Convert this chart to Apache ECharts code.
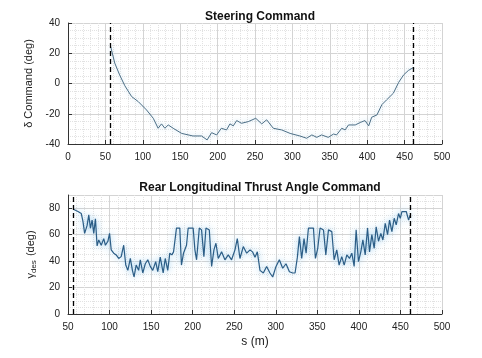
<!DOCTYPE html>
<html>
<head>
<meta charset="utf-8">
<script src="https://cdn.jsdelivr.net/npm/echarts@6/dist/echarts.min.js"></script>
<style>
  html, body { margin: 0; padding: 0; background: #fff; }
  #chart { width: 482px; height: 358px; }
</style>
</head>
<body>
<div id="chart"></div>
<script>
// steering command
var steerS = [57, 62.5, 69, 76, 85, 94, 105, 114, 120.5, 125, 129.5, 134, 140.6, 152, 167, 178.6, 186, 192, 198.7, 205,
    212, 216.5, 221, 225.5, 232, 241, 251, 259, 265.6, 274.5, 285.7, 297, 310, 319, 326, 332.6, 339, 348, 355, 359,
    366, 370.5, 375, 384, 390.6, 397, 402, 406, 413, 419.6, 426, 435, 442, 448.7, 455, 462];
var steerDeg = [24.5, 13.5, 5.7, -1.5, -8.6, -12, -17.5, -23, -29.6, -26.7, -29.6, -27.4, -29.6, -33, -34.7, -34.7, -37.3, -32.5, -34, -29.6,
    -30.7, -26.7, -28, -24.5, -26.3, -25.2, -23, -26.7, -24, -29.6, -30.7, -33, -34.7, -36.2, -34, -35.6, -34, -35.6, -33.4, -34,
    -29.6, -30.7, -27.4, -27.4, -25.8, -24.5, -28, -22.3, -20.8, -14, -10.8, -6.4, 0.7, 5.7, 8.6, 10.6];

// rear longitudinal thrust angle command
var thrustS = [57, 58, 62, 66, 68, 70, 73, 75, 77, 79, 81, 83, 85, 87, 90, 93, 95, 98, 100, 102,
    105, 108, 111, 114, 117, 119.5, 122, 125, 127.5, 129.5, 132, 135, 137, 140, 143, 146, 149, 152, 155.5, 158,
    161, 164.5, 167, 170, 172.5, 175, 177, 180.5, 184.5, 186.5, 189, 192.6, 194.6, 200.6, 202.7, 204.7, 208, 210.7, 213.5, 216,
    220, 222.8, 225.6, 228, 230.8, 234.8, 238.8, 242.8, 246.8, 250.9, 253.7, 256.9, 260.9, 265, 269, 272, 275, 277.8, 281, 285,
    289, 293, 296.3, 300.3, 304.3, 308.3, 312.3, 316.4, 320.4, 323.2, 326, 328.4, 331.2, 334, 336.5, 339.3, 345.3, 347.7, 350.5, 353.3,
    357.4, 360.2, 363.4, 367.4, 370.2, 373.4, 376.2, 379.4, 382.3, 385.5, 388.7, 391.5, 394.3, 396.7, 399.5, 402.3, 404.8, 407.6, 410.4, 412.8,
    415.6, 418.4, 420.8, 423.6, 426.4, 428.9, 431.7, 434.5, 436.9, 439.7, 442.5, 444.9, 447.7, 449.8, 451.8, 457, 459.8, 461.8];
var thrustDeg = [79, 78.7, 77.5, 76, 70, 61, 67, 75, 65, 71, 61, 72, 51.5, 56, 52, 57, 52, 55, 61, 48.5,
    46, 44.7, 42, 43.4, 52, 37, 33, 42, 33, 28, 37, 33, 41, 31, 38, 41, 36, 33, 39.6, 32,
    43, 31, 42, 33, 46, 44.7, 47, 65, 65, 37, 46, 52, 65, 65, 48.5, 41, 65, 63.6, 43.4, 65,
    63.6, 36, 48.5, 53.5, 42, 47, 41, 44.7, 41, 48.5, 57, 42, 51, 46, 48.5, 47, 43, 47, 33, 31,
    36, 31, 28, 36, 41, 34.6, 38, 32, 31, 31, 43, 58.5, 42, 57, 46, 65, 65, 42, 49.7, 65,
    63.6, 44.7, 63.6, 62.3, 41, 48.5, 37, 43.4, 37, 44.7, 42, 46, 36, 63.6, 39.6, 47, 56, 44.7, 65, 47,
    60, 49.7, 66, 55, 61, 56, 68.6, 60, 71, 62.3, 72.4, 67.4, 76, 72.4, 77.5, 77.5, 71, 75];

var markS = [56, 462];

function pairs(xs, ys) {
    var out = [];
    for (var i = 0; i < xs.length; i++) out.push([xs[i], ys[i]]);
    return out;
}

var fontName = 'Liberation Sans';
var labelStyle = { color: '#222', fontSize: 10, fontFamily: fontName };
var majorGrid = { show: true, lineStyle: { color: '#d4d4d4', width: 1 } };
var minorGrid = { show: true, lineStyle: { color: '#e2e2e2', type: 'dotted', width: 1 } };
var axLine = { show: true, onZero: false, lineStyle: { color: '#333', width: 1 } };
var axTick = { show: true, inside: true, length: 4, lineStyle: { color: '#333' } };

function xAx(idx, min) {
    return {
        type: 'value', gridIndex: idx, min: min, max: 500, interval: 50,
        axisLine: axLine, axisTick: axTick, axisLabel: labelStyle,
        splitLine: majorGrid, minorTick: { show: false, splitNumber: 5 }, minorSplitLine: minorGrid
    };
}

var markLines = {
    silent: true, symbol: 'none', label: { show: false },
    lineStyle: { color: '#000', type: [5, 3], width: 1.3 },
    data: markS.map(function (v) { return { xAxis: v }; })
};

var chart = echarts.init(document.getElementById('chart'));
var option = {
    animation: false,
    backgroundColor: '#fff',
    title: [
        { text: 'Steering Command', left: 255, top: 6, textAlign: 'center',
          textStyle: { fontSize: 12, fontWeight: 'bold', color: '#111', fontFamily: fontName } },
        { text: 'Rear Longitudinal Thrust Angle Command', left: 255, top: 177, textAlign: 'center',
          textStyle: { fontSize: 12, fontWeight: 'bold', color: '#111', fontFamily: fontName } }
    ],
    grid: [
        { left: 68, top: 23, width: 374, height: 121 },
        { left: 68, top: 195, width: 374, height: 119 }
    ],
    xAxis: [
        xAx(0, 0),
        Object.assign(xAx(1, 50), {
            name: 's (m)', nameLocation: 'middle', nameGap: 22,
            nameTextStyle: { fontSize: 12, color: '#222', fontFamily: fontName }
        })
    ],
    yAxis: [
        {
            type: 'value', gridIndex: 0, min: -40, max: 40, interval: 20,
            name: 'δ Command (deg)', nameLocation: 'middle', nameGap: 26,
            nameTextStyle: { fontSize: 11, color: '#222', fontFamily: fontName },
            axisLine: axLine, axisTick: axTick, axisLabel: labelStyle,
            splitLine: majorGrid, minorTick: { show: false, splitNumber: 4 }, minorSplitLine: minorGrid
        },
        {
            type: 'value', gridIndex: 1, min: 0, max: 90, interval: 20,
            name: '{g|γ}{s|des} (deg)', nameLocation: 'middle', nameGap: 26,
            nameTextStyle: {
                fontSize: 11, color: '#222', fontFamily: fontName,
                rich: {
                    g: { fontSize: 11, color: '#222', fontFamily: fontName },
                    s: { fontSize: 8, color: '#222', fontFamily: fontName, verticalAlign: 'bottom', padding: [6, 1, 0, 0] }
                }
            },
            axisLine: axLine, axisTick: axTick,
            axisLabel: Object.assign({ showMaxLabel: false }, labelStyle),
            splitLine: majorGrid, minorTick: { show: false, splitNumber: 4 }, minorSplitLine: minorGrid
        }
    ],
    series: [
        {
            type: 'line', xAxisIndex: 0, yAxisIndex: 0, showSymbol: false,
            data: pairs(steerS, steerDeg),
            lineStyle: { color: '#4d6f86', width: 1, shadowColor: 'rgba(150,200,230,0.7)', shadowBlur: 5 },
            markLine: markLines
        },
        {
            type: 'line', xAxisIndex: 1, yAxisIndex: 1, showSymbol: false,
            data: pairs(thrustS, thrustDeg),
            lineStyle: { color: '#2b5d86', width: 1.2, shadowColor: 'rgba(120,190,235,0.9)', shadowBlur: 7 },
            markLine: markLines
        }
    ]
};
chart.setOption(option);
</script>
</body>
</html>
